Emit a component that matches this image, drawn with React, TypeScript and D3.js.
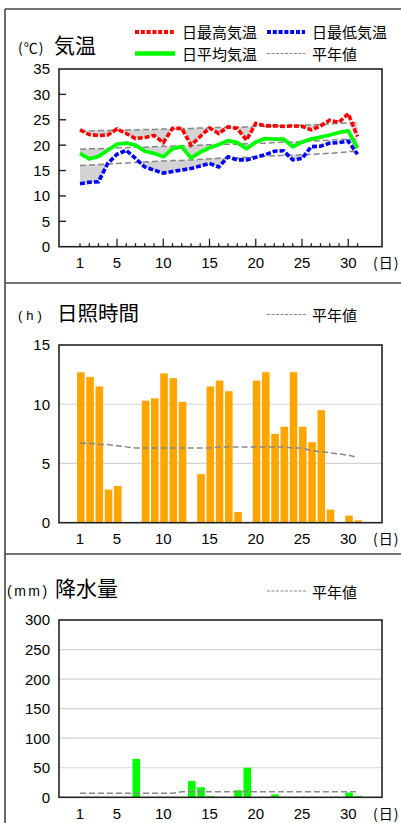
import React from 'react';
import * as d3 from 'd3';

const days = [1,2,3,4,5,6,7,8,9,10,11,12,13,14,15,16,17,18,19,20,21,22,23,24,25,26,27,28,29,30,31];
const tmax = [23.0,22.1,21.9,22.0,23.2,22.3,21.3,21.5,21.9,20.5,23.3,23.3,20.0,21.7,23.4,22.3,23.6,23.3,21.0,24.3,23.8,23.8,23.7,23.8,23.7,23.0,23.8,24.9,24.5,26.2,21.7];
const tavg = [18.4,17.3,17.8,19.0,20.2,20.4,20.0,18.8,18.4,17.7,19.3,19.7,17.5,18.6,19.5,20.1,20.9,20.5,19.3,20.6,21.3,21.2,21.2,19.7,20.6,21.2,21.6,22.0,22.5,22.8,19.4];
const tmin = [12.4,12.7,12.8,16.4,18.2,19.0,17.4,15.7,15.1,14.5,14.8,15.1,15.4,15.9,16.4,15.7,17.7,17.1,17.1,17.6,18.1,18.8,18.9,17.1,17.4,19.7,19.8,20.4,20.5,20.8,18.2];
const nmax = [22.8,22.8,22.9,22.9,23.0,23.0,23.0,23.1,23.1,23.2,23.2,23.3,23.3,23.4,23.4,23.5,23.5,23.6,23.6,23.7,23.7,23.8,23.8,23.9,23.9,24.0,24.1,24.2,24.3,24.4,24.5];
const navg = [19.2,19.3,19.3,19.4,19.5,19.5,19.6,19.6,19.7,19.8,19.8,19.9,19.9,20.0,20.1,20.1,20.2,20.2,20.3,20.4,20.4,20.5,20.6,20.6,20.7,20.8,20.9,21.0,21.1,21.2,21.3];
const nmin = [16.0,16.1,16.2,16.3,16.4,16.5,16.6,16.7,16.8,16.9,17.0,17.0,17.1,17.2,17.3,17.4,17.4,17.5,17.6,17.7,17.8,17.9,18.0,18.0,18.1,18.2,18.3,18.4,18.5,18.7,18.9];
const sunshine = [12.7,12.3,11.5,2.8,3.1,0,0,10.3,10.5,12.6,12.2,10.2,0,4.1,11.5,12.0,11.1,0.9,0,12.0,12.7,7.5,8.1,12.7,8.1,6.8,9.5,1.1,0,0.6,0.2];
const sunNormal = [6.7,6.7,6.6,6.6,6.5,6.4,6.3,6.3,6.3,6.3,6.3,6.3,6.3,6.3,6.3,6.4,6.4,6.4,6.4,6.4,6.4,6.4,6.4,6.3,6.3,6.1,6.0,5.9,5.8,5.7,5.5];
const precip = [0,0,0,0,0,0,65,0,0,0,0,0,27.5,17,2,0,0,12,50,0,0,5,0,0,0,0,0,0,0,8,2];
const precipNormal = [6.8,6.8,6.8,6.8,6.8,6.8,6.8,6.8,6.8,6.8,6.8,9.3,9.3,9.3,9.3,9.3,9.3,9.3,9.3,9.3,9.3,9.3,9.3,9.3,9.3,9.3,9.3,9.3,9.3,9.3,9.3];
const dayLabels = [1,5,10,15,20,25,30];
const tempTicks = [0,5,10,15,20,25,30,35];
const sunTicks = [0,5,10,15];
const precipTicks = [0,50,100,150,200,250,300];

const NUM = '"Liberation Sans", Arial, sans-serif';
const CJK = '"Noto Sans CJK JP", sans-serif';

const L = 59, R = 382;
const x = d3.scaleLinear().domain([1, 31]).range([80, 357.5]);
const yT = d3.scaleLinear().domain([0, 35]).range([246.7, 69]);
const yS = d3.scaleLinear().domain([0, 15]).range([522.7, 345]);
const yP = d3.scaleLinear().domain([0, 300]).range([797.3, 620]);

function shade(obs: number[], norm: number[]) {
  const a = d3.area<number>()
    .x((d) => x(d))
    .y0((_, i) => yT(norm[i]))
    .y1((_, i) => yT(Math.min(obs[i], norm[i])));
  return a(days) || '';
}
function lineOf(vals: number[], y: d3.ScaleLinear<number, number>) {
  const l = d3.line<number>().x((d) => x(d)).y((_, i) => y(vals[i]));
  return l(days) || '';
}

function XLabels({ y0 }: { y0: number }) {
  return (
    <g>
      {dayLabels.map((d) => (
        <text key={d} x={x(d)} y={y0 + 21.5} textAnchor="middle" fontFamily={NUM} fontSize={15}>{d}</text>
      ))}
      <text x={373} y={y0 + 21.5} fontFamily={CJK} fontSize={14} letterSpacing={1}>(日)</text>
    </g>
  );
}

function YLabels({ ticks, y }: { ticks: number[]; y: d3.ScaleLinear<number, number> }) {
  return (
    <g>
      {ticks.map((t) => (
        <text key={t} x={50} y={y(t) + 5.4} textAnchor="end" fontFamily={NUM} fontSize={15}>{t}</text>
      ))}
    </g>
  );
}

function Grid({ ticks, y }: { ticks: number[]; y: d3.ScaleLinear<number, number> }) {
  return (
    <g>
      {ticks.slice(1, -1).map((t) => (
        <line key={t} x1={L} x2={R} y1={y(t)} y2={y(t)} stroke="#d4d4d4" strokeWidth={1.2} />
      ))}
    </g>
  );
}

function Box({ y: yy }: { y: d3.ScaleLinear<number, number> }) {
  const [b, t] = yy.range();
  return <rect x={L} y={t} width={R - L} height={b - t} fill="none" stroke="#222" strokeWidth={1.6} />;
}

function NormalLegend({ y }: { y: number }) {
  return (
    <g>
      <line x1={267} x2={307} y1={y} y2={y} stroke="#888" strokeWidth={1.2} strokeDasharray="3 1.5" />
      <text x={312} y={y + 6.5} fontFamily={CJK} fontSize={15}>平年値</text>
    </g>
  );
}

export default function App() {
  const bw = 7.6;
  return (
    <svg width={401} height={823} style={{ position: 'absolute', left: 0, top: 0, background: '#fff' }}>
      <rect x={0} y={0} width={401} height={823} fill="#fff" />
      {/* frame */}
      <line x1={5} x2={5} y1={9} y2={823} stroke="#444" strokeWidth={1.6} />
      <line x1={5} x2={401} y1={9} y2={9} stroke="#444" strokeWidth={1.6} />
      <line x1={5} x2={401} y1={283} y2={283} stroke="#444" strokeWidth={1.6} />
      <line x1={5} x2={401} y1={554} y2={554} stroke="#444" strokeWidth={1.6} />

      {/* ===== Temperature ===== */}
      <text x={18} y={53} fontFamily={CJK} fontSize={14} letterSpacing={1}>(℃)</text>
      <text x={54} y={53} fontFamily={CJK} fontSize={21}>気温</text>
      <line x1={135} x2={175} y1={32} y2={32} stroke="#f00" strokeWidth={4} strokeDasharray="4 1.8" />
      <text x={182} y={38} fontFamily={CJK} fontSize={15}>日最高気温</text>
      <line x1={267} x2={305} y1={32} y2={32} stroke="#00f" strokeWidth={4} strokeDasharray="4 1.8" />
      <text x={312} y={38} fontFamily={CJK} fontSize={15}>日最低気温</text>
      <line x1={135} x2={175} y1={53.5} y2={53.5} stroke="#00ff00" strokeWidth={4.5} />
      <text x={182} y={60} fontFamily={CJK} fontSize={15}>日平均気温</text>
      <line x1={267} x2={305} y1={53.5} y2={53.5} stroke="#888" strokeWidth={1.2} strokeDasharray="3 1.5" />
      <text x={312} y={60} fontFamily={CJK} fontSize={15}>平年値</text>

      <path d={shade(tmax, nmax)} fill="#d3d3d3" />
      <path d={shade(tavg, navg)} fill="#d3d3d3" />
      <path d={shade(tmin, nmin)} fill="#d3d3d3" />
      {[nmax, navg, nmin].map((n, i) => (
        <path key={i} d={lineOf(n, yT)} fill="none" stroke="#888" strokeWidth={1.5} strokeDasharray="6 3" />
      ))}
      <path d={lineOf(tavg, yT)} fill="none" stroke="#00ff00" strokeWidth={3.8} strokeLinejoin="round" />
      <path d={lineOf(tmax, yT)} fill="none" stroke="#f00" strokeWidth={3.6} strokeDasharray="5 2" />
      <path d={lineOf(tmin, yT)} fill="none" stroke="#00f" strokeWidth={3.6} strokeDasharray="5 2" />

      {tempTicks.slice(1, -1).map((t) => (
        <line key={t} x1={L} x2={L + 7} y1={yT(t)} y2={yT(t)} stroke="#222" strokeWidth={1.4} />
      ))}
      {days.map((d) => (
        <line key={d} x1={x(d)} x2={x(d)} y1={246.7} y2={246.7 - (d % 5 === 0 ? 8 : 3.5)} stroke="#222" strokeWidth={1.3} />
      ))}
      <Box y={yT} />
      <YLabels ticks={tempTicks} y={yT} />
      <XLabels y0={246.7} />

      {/* ===== Sunshine ===== */}
      <text x={18} y={320} fontFamily={NUM} fontSize={13} letterSpacing={4}>(h)</text>
      <text x={57} y={321} fontFamily={CJK} fontSize={20.5}>日照時間</text>
      <NormalLegend y={314.5} />
      <Grid ticks={sunTicks} y={yS} />
      {days.map((d, i) => sunshine[i] > 0 ? (
        <rect key={d} x={x(d) - bw / 2 + 0.8} y={yS(sunshine[i])} width={bw} height={yS(0) - yS(sunshine[i])} fill="#ffa500" />
      ) : null)}
      <path d={lineOf(sunNormal, yS)} fill="none" stroke="#888" strokeWidth={1.5} strokeDasharray="6 3" />
      <Box y={yS} />
      <YLabels ticks={sunTicks} y={yS} />
      <XLabels y0={522.7} />

      {/* ===== Precipitation ===== */}
      <text x={7} y={596} fontFamily={NUM} fontSize={14} letterSpacing={2.5}>(mm)</text>
      <text x={55} y={596} fontFamily={CJK} fontSize={21}>降水量</text>
      <NormalLegend y={591} />
      <Grid ticks={precipTicks} y={yP} />
      {days.map((d, i) => precip[i] > 0 ? (
        <rect key={d} x={x(d) - bw / 2 + 0.8} y={yP(precip[i])} width={bw} height={yP(0) - yP(precip[i])} fill="#00ff00" />
      ) : null)}
      <path d={lineOf(precipNormal, yP)} fill="none" stroke="#888" strokeWidth={1.5} strokeDasharray="6 3" />
      <Box y={yP} />
      <YLabels ticks={precipTicks} y={yP} />
      <XLabels y0={797.3} />
    </svg>
  );
}
